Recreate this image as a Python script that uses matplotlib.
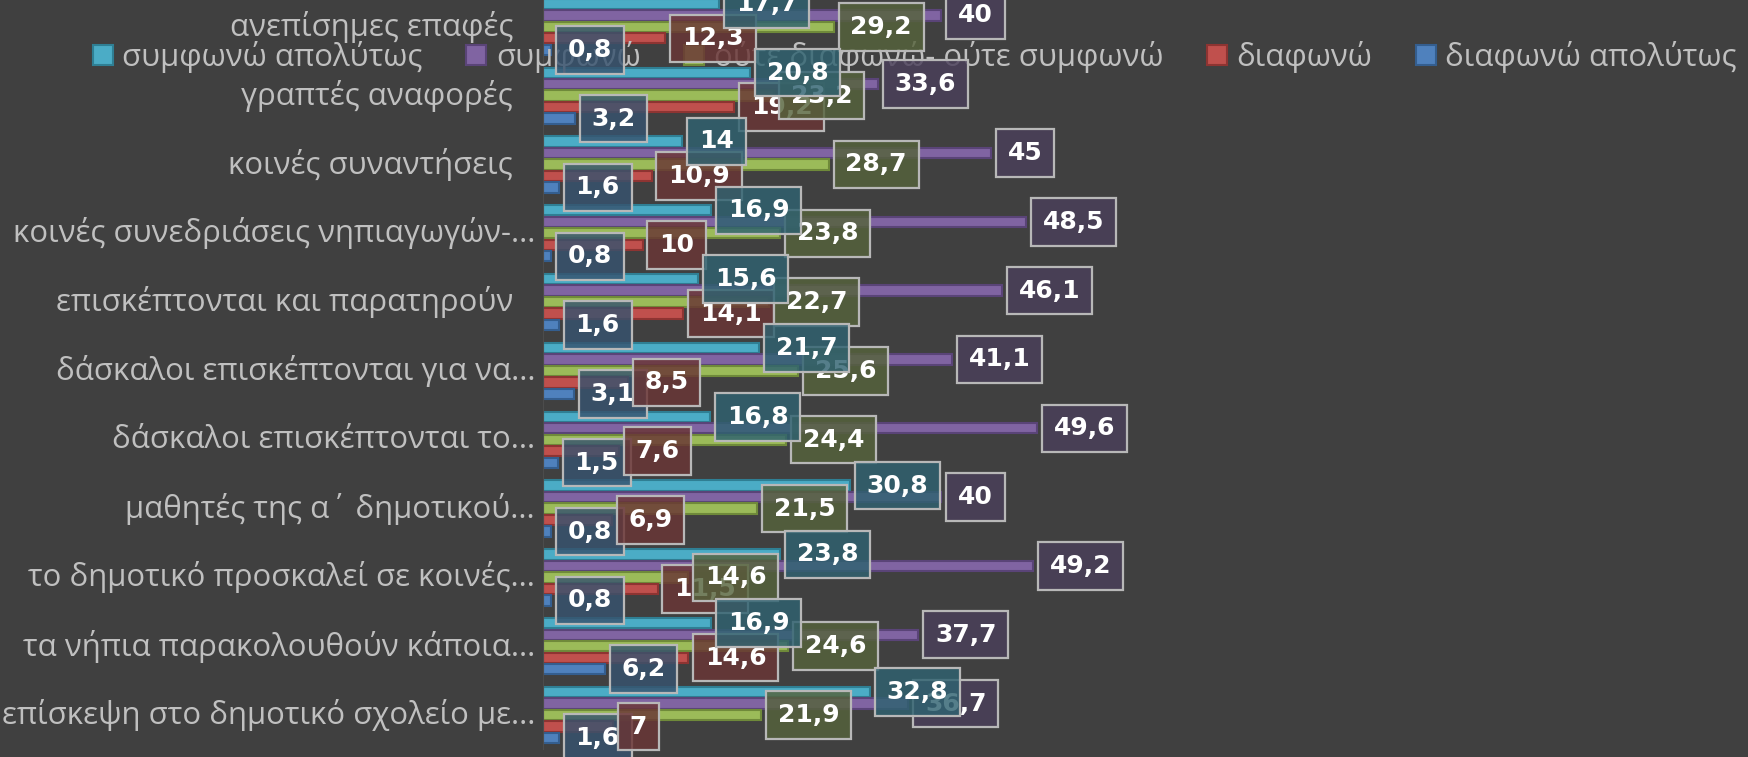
import matplotlib.pyplot as plt
from matplotlib.colors import to_rgba
from matplotlib.transforms import offset_copy

categories = [
    'ανεπίσημες επαφές',
    'γραπτές αναφορές',
    'κοινές συναντήσεις',
    'κοινές συνεδριάσεις νηπιαγωγών-...',
    'επισκέπτονται και παρατηρούν',
    'δάσκαλοι επισκέπτονται για να...',
    'δάσκαλοι επισκέπτονται το...',
    'μαθητές της α΄ δημοτικού...',
    'το δημοτικό προσκαλεί σε κοινές...',
    'τα νήπια παρακολουθούν κάποια...',
    'επίσκεψη στο δημοτικό σχολείο με...',
]

series_names = ['συμφωνώ απολύτως', 'συμφωνώ', 'ούτε διαφωνώ- ούτε συμφωνώ',
                'διαφωνώ', 'διαφωνώ απολύτως']

agree_fully = [17.7, 20.8, 14, 16.9, 15.6, 21.7, 16.8, 30.8, 23.8, 16.9, 32.8]
agree = [40, 33.6, 45, 48.5, 46.1, 41.1, 49.6, 40, 49.2, 37.7, 36.7]
neutral = [29.2, 23.2, 28.7, 23.8, 22.7, 25.6, 24.4, 21.5, 14.6, 24.6, 21.9]
disagree = [12.3, 19.2, 10.9, 10, 14.1, 8.5, 7.6, 6.9, 11.5, 14.6, 7]
disagree_fully = [0.8, 3.2, 1.6, 0.8, 1.6, 3.1, 1.5, 0.8, 0.8, 6.2, 1.6]

series = [agree_fully, agree, neutral, disagree, disagree_fully]
colors = ['#4bacc6', '#8064a2', '#9bbb59', '#c0504d', '#4f81bd']
edges = ['#2f7f94', '#5a4478', '#6f8a3a', '#8e3432', '#345e8f']
box_colors = ['#2f6270', '#4a3f5a', '#56633c', '#6a3535', '#37536f']

bg = '#404040'
text_color = '#c0c0c0'

fig = plt.figure(figsize=(17.49, 7.57), dpi=100, facecolor=bg)
ax = fig.add_axes([543 / 1749, 0.010, 1195 / 1749, 1.0])
ax.set_facecolor(bg)
ax.set_xlim(0, 120)
ax.set_ylim(len(categories) - 0.5, -0.5)

step = 0.167
bar_h = 0.15
handles = []
for i, vals in enumerate(series):
    ys = [c + (i - 2) * step for c in range(len(categories))]
    b = ax.barh(ys, vals, height=bar_h, color=colors[i], edgecolor=edges[i],
                linewidth=1.5, zorder=2)
    handles.append(b)

# data labels, drawn last series first so cyan ends on top
for i in reversed(range(len(series))):
    for c, v in enumerate(series[i]):
        y = c + (i - 2) * step
        ax.annotate('{:g}'.format(v).replace('.', ','), xy=(v, y),
                    xytext=(12, 0), textcoords='offset points',
                    ha='left', va='center', color='white', fontsize=18,
                    fontweight='bold', family='DejaVu Sans',
                    bbox=dict(boxstyle='square,pad=0.47',
                              fc=to_rgba(box_colors[i], 0.82),
                              ec='#b8b8b8', lw=1.6),
                    zorder=10 + (4 - i))

for c, cat in enumerate(categories):
    gap = 8 if cat.endswith('...') else 30
    tr = offset_copy(ax.get_yaxis_transform(), fig=fig, x=-gap, y=0, units='dots')
    ax.text(0, c, cat, transform=tr, ha='right', va='center', fontsize=22.4,
            color=text_color, family='Open Sans')

ax.legend(handles, series_names, ncol=5, loc='center',
          bbox_to_anchor=(0.523, 1 - 57 / 757), bbox_transform=fig.transFigure,
          frameon=False, prop={'family': 'Open Sans', 'size': 22.4},
          labelcolor=text_color, handlelength=0.65, handleheight=0.65,
          handletextpad=0.3, columnspacing=1.4)

ax.set_xticks([])
ax.set_yticks([])
for side in ['top', 'right', 'bottom']:
    ax.spines[side].set_visible(False)
ax.spines['left'].set_color('#4c4c4c')

fig.savefig('out.png', dpi=100, facecolor=bg)
